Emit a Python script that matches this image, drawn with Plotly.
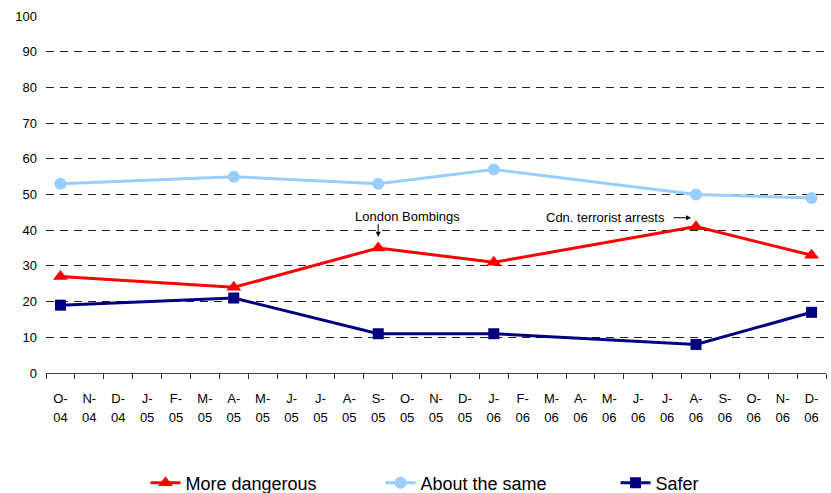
import plotly.graph_objects as go

# Monthly category axis, Oct 2004 - Dec 2006
month_keys = ["Oct-04", "Nov-04", "Dec-04",
              "Jan-05", "Feb-05", "Mar-05", "Apr-05", "May-05", "Jun-05",
              "Jul-05", "Aug-05", "Sep-05", "Oct-05", "Nov-05", "Dec-05",
              "Jan-06", "Feb-06", "Mar-06", "Apr-06", "May-06", "Jun-06",
              "Jul-06", "Aug-06", "Sep-06", "Oct-06", "Nov-06", "Dec-06"]
month_letters = ["O-", "N-", "D-", "J-", "F-", "M-", "A-", "M-", "J-", "J-", "A-", "S-",
                 "O-", "N-", "D-", "J-", "F-", "M-", "A-", "M-", "J-", "J-", "A-", "S-",
                 "O-", "N-", "D-"]
month_years = ["04", "04", "04", "05", "05", "05", "05", "05", "05", "05", "05", "05",
               "05", "05", "05", "06", "06", "06", "06", "06", "06", "06", "06", "06",
               "06", "06", "06"]

# Survey waves and results (%)
survey_months = ["Oct-04", "Apr-05", "Sep-05", "Jan-06", "Aug-06", "Dec-06"]
more_dangerous = [27, 24, 35, 31, 41, 33]
about_the_same = [53, 55, 53, 57, 50, 49]
safer = [19, 21, 11, 11, 8, 17]

survey_x = [month_keys.index(k) for k in survey_months]
n_months = len(month_keys)

FONT = "Arial, Liberation Sans, sans-serif"

fig = go.Figure()
fig.add_trace(go.Scatter(
    x=survey_x, y=more_dangerous, name="More dangerous", mode="lines+markers",
    line=dict(color="#FF0000", width=3),
    marker=dict(symbol="triangle-up", size=13, color="#FF0000"),
))
fig.add_trace(go.Scatter(
    x=survey_x, y=about_the_same, name="About the same", mode="lines+markers",
    line=dict(color="#99CCFF", width=3),
    marker=dict(symbol="circle", size=12, color="#99CCFF"),
))
fig.add_trace(go.Scatter(
    x=survey_x, y=safer, name="Safer", mode="lines+markers",
    line=dict(color="#000080", width=3),
    marker=dict(symbol="square", size=11, color="#000080"),
))
# empty traces so the overlay axes (year row, boundary ticks) get drawn
for ax_name in ("x2", "x3"):
    fig.add_trace(go.Scatter(x=[None], y=[None], xaxis=ax_name, yaxis="y",
                             showlegend=False, hoverinfo="skip", mode="markers"))

# Event callouts
ev_london = month_keys.index("Sep-05")
ev_arrests = month_keys.index("Aug-06")
fig.add_annotation(x=ev_london + 1, y=43.8, text="London Bombings", showarrow=False,
                   font=dict(size=13, family=FONT, color="#000"))
fig.add_annotation(x=ev_london, y=38.2, ax=0, ay=-14, text="", showarrow=True,
                   arrowhead=2, arrowsize=1, arrowwidth=1, arrowcolor="#000")
fig.add_annotation(x=ev_arrests - 3.15, y=43.5, text="Cdn. terrorist arrests", showarrow=False,
                   font=dict(size=13, family=FONT, color="#000"))
fig.add_annotation(x=ev_arrests - 0.17, y=43.5, ax=-19, ay=0, text="", showarrow=True,
                   arrowhead=2, arrowsize=1, arrowwidth=1, arrowcolor="#000")

xrange = [-0.5, n_months - 0.5]
fig.update_layout(
    width=831, height=493,
    margin=dict(l=46, r=5, t=16, b=120, autoexpand=False),
    paper_bgcolor="white", plot_bgcolor="white",
    font=dict(family=FONT, color="#000", size=13),
    showlegend=True,
    legend=dict(orientation="h", x=0.5795, xanchor="center",
                yref="container", y=0.02, yanchor="middle",
                font=dict(size=18, family=FONT), entrywidth=190, itemwidth=30),
    xaxis=dict(range=xrange, tickmode="array", tickvals=list(range(n_months)),
               ticktext=month_letters, ticks="", showgrid=False, zeroline=False,
               showline=True, linecolor="#444", linewidth=1,
               tickfont=dict(size=13), ticklabelstandoff=13),
    xaxis2=dict(range=xrange, overlaying="x", anchor="y", side="bottom",
                tickmode="array", tickvals=list(range(n_months)), ticktext=month_years,
                ticks="", showgrid=False, zeroline=False, showline=False,
                tickfont=dict(size=13), ticklabelstandoff=35),
    xaxis3=dict(range=xrange, overlaying="x", anchor="y", side="bottom",
                tickmode="array", tickvals=[i - 0.5 for i in range(n_months + 1)],
                ticktext=[""] * (n_months + 1), ticks="outside", ticklen=5,
                tickwidth=1, tickcolor="#333", showgrid=False, zeroline=False,
                showline=False),
    yaxis=dict(range=[0, 100], tickmode="array", tickvals=list(range(0, 101, 10)),
               showgrid=True, gridcolor="#222", gridwidth=1, griddash="8px,6px",
               zeroline=False, showline=False, ticks="", tickfont=dict(size=13),
               ticklabelstandoff=8),
)

fig.write_html("out.html")
